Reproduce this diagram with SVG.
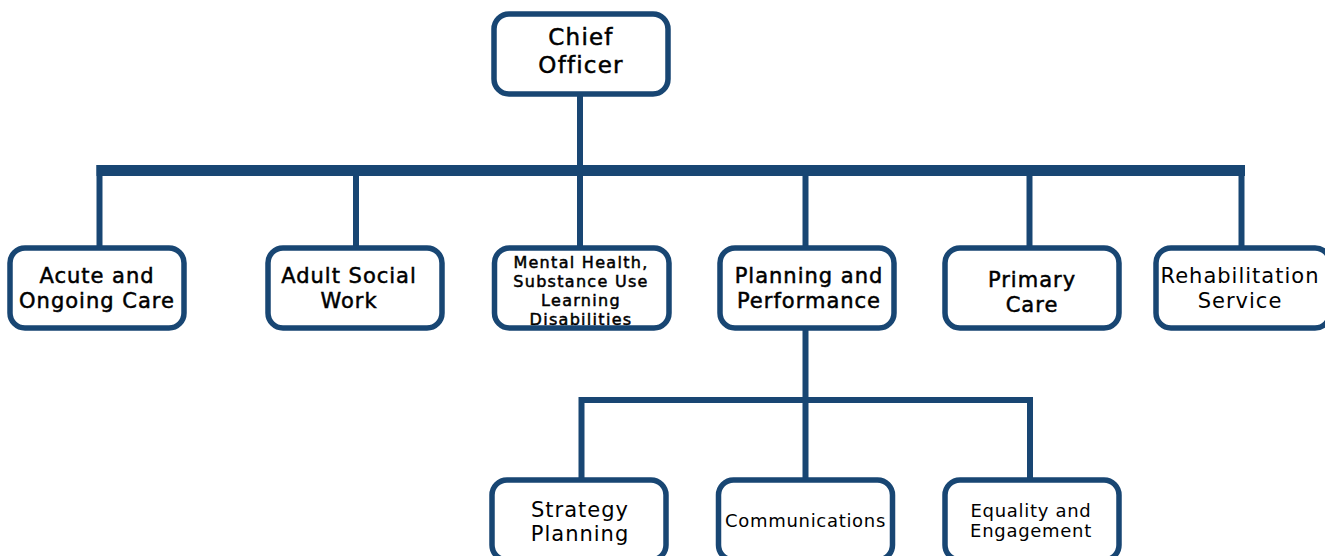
<svg xmlns="http://www.w3.org/2000/svg" width="1325" height="556" viewBox="0 0 1325 556">
<style>
.box{fill:#ffffff;stroke:#184673;stroke-width:5.5}
.frame{fill:none;stroke:#184673;stroke-width:5.5}
.ln{stroke:#184673;stroke-width:6;fill:none}
.bus{stroke:#184673;stroke-width:11;fill:none}
text{font-family:"DejaVu Sans","Liberation Sans",sans-serif;fill:#000000;text-anchor:middle}
.m{stroke:#000000;stroke-width:0.5}
.t21{font-size:21px;letter-spacing:1px}
.t23{font-size:23px;letter-spacing:1.2px}
.t16{font-size:16px;letter-spacing:1.3px}
.t18{font-size:18px;letter-spacing:0.7px}
</style>
<g id="connectors">
<line class="ln" x1="580" y1="94" x2="580" y2="171"/>
<line class="bus" x1="96.5" y1="170.5" x2="1245" y2="170.5"/>
<line class="ln" x1="99.5" y1="165" x2="99.5" y2="248"/>
<line class="ln" x1="356" y1="165" x2="356" y2="248"/>
<line class="ln" x1="580" y1="165" x2="580" y2="248"/>
<line class="ln" x1="805.5" y1="165" x2="805.5" y2="248"/>
<line class="ln" x1="1029.5" y1="165" x2="1029.5" y2="248"/>
<line class="ln" x1="1241.5" y1="165" x2="1241.5" y2="248"/>
<line class="ln" x1="805.5" y1="327" x2="805.5" y2="480"/>
<polyline class="ln" points="581.5,480 581.5,400 1030,400 1030,480"/>
</g>
<g id="chief-officer">
<rect class="box" x="494" y="14" width="174" height="80" rx="15"/>
<text class="t23 m" x="581" y="45">Chief</text>
<text class="t23 m" x="581" y="73">Officer</text>
</g>
<g id="acute-ongoing-care">
<rect class="box" x="10" y="248" width="174" height="80" rx="15"/>
<text class="t21 m" x="97" y="283">Acute and</text>
<text class="t21 m" x="97" y="308">Ongoing Care</text>
</g>
<g id="adult-social-work">
<rect class="box" x="268" y="248" width="174" height="80" rx="15"/>
<text class="t21 m" x="349" y="283">Adult Social</text>
<text class="t21 m" x="349" y="308">Work</text>
</g>
<g id="mental-health">
<rect x="494.5" y="248" width="174.5" height="80" rx="15" fill="#ffffff"/>
<text class="t16 m" x="581" y="268">Mental Health,</text>
<text class="t16 m" x="581" y="287">Substance Use</text>
<text class="t16 m" x="581" y="306">Learning</text>
<text class="t16 m" x="581" y="325">Disabilities</text>
<rect class="frame" x="494.5" y="248" width="174.5" height="80" rx="15"/>
</g>
<g id="planning-performance">
<rect class="box" x="720" y="248" width="174" height="80" rx="15"/>
<text class="t21 m" x="809" y="283">Planning and</text>
<text class="t21 m" x="809" y="308">Performance</text>
</g>
<g id="primary-care">
<rect class="box" x="945" y="248" width="174" height="80" rx="15"/>
<text class="t21 m" x="1032" y="287">Primary</text>
<text class="t21 m" x="1032" y="312">Care</text>
</g>
<g id="rehabilitation-service">
<rect class="box" x="1156" y="248" width="174" height="80" rx="15"/>
<text class="t21" x="1240" y="283">Rehabilitation</text>
<text class="t21" x="1240" y="308">Service</text>
</g>
<g id="strategy-planning">
<rect class="box" x="492" y="480" width="174" height="80" rx="15"/>
<text class="t21" x="580" y="517">Strategy</text>
<text class="t21" x="580" y="541">Planning</text>
</g>
<g id="communications">
<rect class="box" x="718.5" y="480" width="174" height="80" rx="15"/>
<text class="t18" x="805.5" y="527">Communications</text>
</g>
<g id="equality-engagement">
<rect class="box" x="945" y="480" width="174" height="80" rx="15"/>
<text class="t18" x="1031" y="517">Equality and</text>
<text class="t18" x="1031" y="537">Engagement</text>
</g>
</svg>
